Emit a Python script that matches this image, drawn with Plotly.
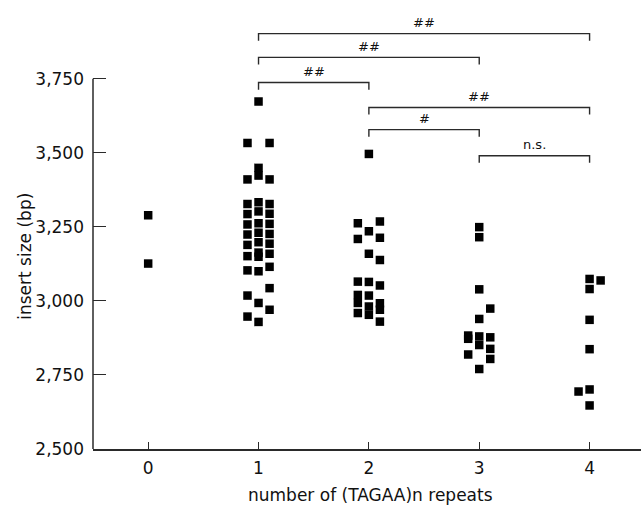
import plotly.graph_objects as go

# ---- data ----
categories = [0, 1, 2, 3, 4]
tick_labels = ["0", "1", "2", "3", "4"]
y_ticks = [2500, 2750, 3000, 3250, 3500, 3750]

# values per category, split by column (left / centre / right of the category)
cat0_center = [3289, 3126]
cat0_left = []
cat0_right = []

cat1_left = [3533, 3410, 3327, 3293, 3258, 3224, 3189, 3151, 3103, 3018, 2947]
cat1_center = [3673, 3449, 3423, 3333, 3302, 3262, 3230, 3198, 3163, 3149, 3100, 2993, 2929]
cat1_right = [3533, 3410, 3327, 3294, 3260, 3226, 3193, 3159, 3115, 3043, 2970]

cat2_left = [3262, 3209, 3065, 3020, 2993, 2959]
cat2_center = [3496, 3235, 3159, 3064, 3018, 2981, 2953]
cat2_right = [3268, 3213, 3138, 3052, 2992, 2970, 2930]

cat3_left = [2883, 2872, 2819]
cat3_center = [3249, 3215, 3039, 2939, 2880, 2851, 2770]
cat3_right = [2974, 2877, 2838, 2804]

cat4_left = [2694]
cat4_center = [3074, 3040, 2936, 2837, 2701, 2647]
cat4_right = [3069]

# significance comparisons: (from, to, label, bracket height)
comp_from = [1, 1, 1, 2, 2, 3]
comp_to = [4, 3, 2, 4, 3, 4]
comp_label = ["##", "##", "##", "##", "#", "n.s."]
comp_height = [3902, 3822, 3737, 3653, 3578, 3490]

# ---- build ----
groups = [
    (0, cat0_left, cat0_center, cat0_right),
    (1, cat1_left, cat1_center, cat1_right),
    (2, cat2_left, cat2_center, cat2_right),
    (3, cat3_left, cat3_center, cat3_right),
    (4, cat4_left, cat4_center, cat4_right),
]
offset = 0.1
xs, ys = [], []
for c, left, center, right in groups:
    for v in left:
        xs.append(c - offset); ys.append(v)
    for v in center:
        xs.append(c); ys.append(v)
    for v in right:
        xs.append(c + offset); ys.append(v)

FONT = "DejaVu Sans"
INK = "#111111"
LINE = "#2a2a2a"

fig = go.Figure()
fig.add_trace(go.Scatter(
    x=xs, y=ys, mode="markers",
    marker=dict(symbol="square", size=8.5, color="#000000", line=dict(width=0)),
    showlegend=False, hoverinfo="y",
))

shapes = []
annotations = []
leg = 24
for a, b, lab, h in zip(comp_from, comp_to, comp_label, comp_height):
    shapes.append(dict(type="path", xref="x", yref="y",
                       path=f"M {a},{h - leg} L {a},{h} L {b},{h} L {b},{h - leg}",
                       line=dict(color=LINE, width=1.4)))
    annotations.append(dict(x=(a + b) / 2, y=h, xref="x", yref="y", text=lab,
                            showarrow=False, yanchor="middle", yshift=11,
                            font=dict(family=FONT, size=13, color=INK)))

# y axis line (only over the tick range)
shapes.append(dict(type="line", xref="paper", yref="y", x0=0, x1=0,
                   y0=y_ticks[0], y1=y_ticks[-1], line=dict(color=LINE, width=1.5)))

annotations.append(dict(text="number of (TAGAA)n repeats", xref="paper", yref="paper",
                        x=0.5064, y=-0.1048, xanchor="center", yanchor="middle",
                        showarrow=False, font=dict(family=FONT, size=17, color=INK)))
annotations.append(dict(text="insert size (bp)", xref="paper", yref="paper",
                        x=-0.124, y=0.438, xanchor="center", yanchor="middle",
                        textangle=-90, showarrow=False,
                        font=dict(family=FONT, size=17, color=INK)))

fig.update_layout(
    width=641, height=505,
    margin=dict(l=93, r=0, t=10, b=56, autoexpand=False),
    paper_bgcolor="white", plot_bgcolor="white",
    font=dict(family=FONT, size=17, color=INK),
    shapes=shapes, annotations=annotations,
    xaxis=dict(range=[-0.5, 4.466], tickvals=categories, ticktext=tick_labels,
               ticks="inside", ticklen=7, tickwidth=1.4, tickcolor=LINE,
               showline=True, linecolor=LINE, linewidth=1.5,
               showgrid=False, zeroline=False, ticklabelstandoff=3),
    yaxis=dict(range=[2500, 3981.9], tickvals=y_ticks, tickformat=",",
               ticks="inside", ticklen=13, tickwidth=1.4, tickcolor=LINE,
               showline=False, showgrid=False, zeroline=False,
               ticklabelstandoff=8),
)

fig.write_html("out.html",
               config={"displayModeBar": False},
               post_script="document.body.style.margin='0px';document.body.style.overflow='hidden';")
